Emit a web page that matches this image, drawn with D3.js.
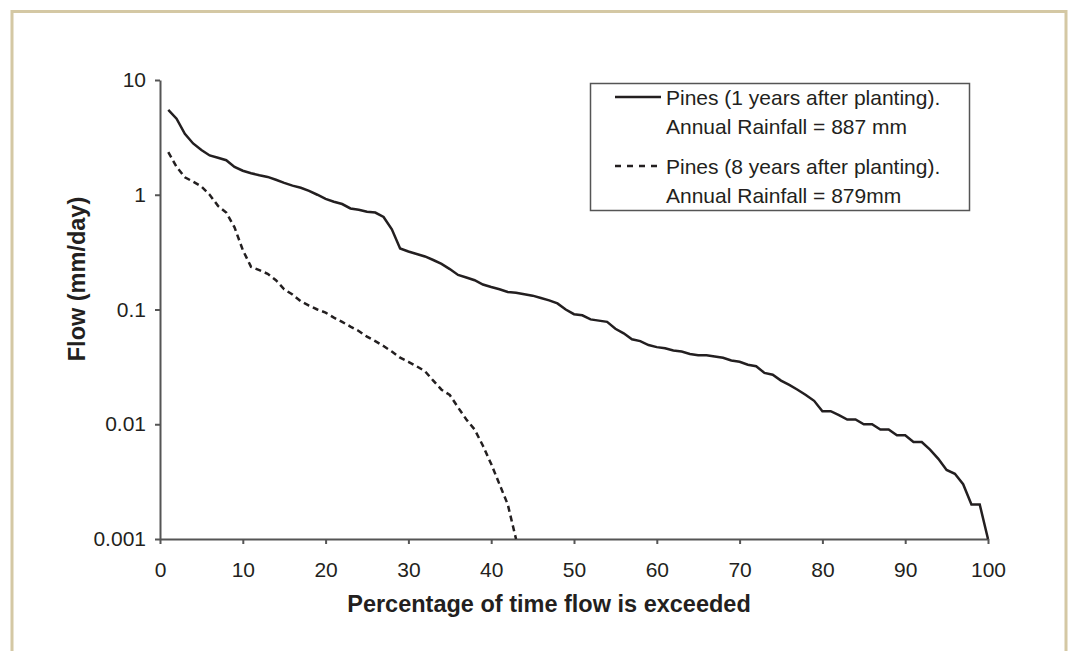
<!doctype html>
<html>
<head>
<meta charset="utf-8">
<title>Flow duration curves</title>
<script src="https://cdn.jsdelivr.net/npm/d3@7"></script>
<style>
    body { margin: 0; background: white; }
    text { font-family: "Liberation Sans", Arial, sans-serif; fill: #231f20; }
    .axis path, .axis line { stroke: #555; stroke-width: 2px; }
    .axis text { font-size: 21px; }
    .title { font-weight: bold; font-size: 23.5px; }
    .legend text { font-size: 21px; }
    .flow { fill: none; stroke: #231f20; stroke-width: 2.5px; }
</style>
</head>
<body>
<script>
    // percentage of time exceeded
    const pct1 = d3.range(1, 101);
    // pines 1 year after planting (mm/day)
    const flow1 = [5.5, 4.6, 3.4, 2.8, 2.45, 2.2, 2.1, 2.0, 1.75, 1.62,
        1.54, 1.48, 1.43, 1.35, 1.27, 1.2, 1.15, 1.08, 1.0, 0.92,
        0.87, 0.83, 0.76, 0.74, 0.71, 0.70, 0.64, 0.50, 0.34, 0.32,
        0.305, 0.29, 0.27, 0.25, 0.225, 0.20, 0.19, 0.18, 0.165, 0.157,
        0.15, 0.142, 0.14, 0.136, 0.132, 0.126, 0.12, 0.113, 0.10, 0.091,
        0.089, 0.082, 0.08, 0.078, 0.068, 0.062, 0.055, 0.053, 0.049, 0.047,
        0.046, 0.044, 0.043, 0.041, 0.040, 0.040, 0.039, 0.038, 0.036, 0.035,
        0.033, 0.032, 0.028, 0.027, 0.024, 0.022, 0.020, 0.018, 0.016, 0.013,
        0.013, 0.012, 0.011, 0.011, 0.010, 0.010, 0.009, 0.009, 0.008, 0.008,
        0.007, 0.007, 0.006, 0.005, 0.004, 0.0037, 0.003, 0.002, 0.002, 0.001];

    const pct8 = d3.range(1, 44);
    // pines 8 years after planting (mm/day)
    const flow8 = [2.35, 1.75, 1.42, 1.3, 1.18, 1.0, 0.8, 0.7, 0.52, 0.33,
        0.235, 0.22, 0.205, 0.18, 0.15, 0.135, 0.118, 0.108, 0.10, 0.094,
        0.085, 0.078, 0.071, 0.065, 0.058, 0.053, 0.048, 0.043, 0.038, 0.035,
        0.032, 0.029, 0.024, 0.020, 0.018, 0.014, 0.011, 0.009, 0.0065, 0.0045,
        0.003, 0.002, 0.001];

    const xTicks = d3.range(0, 101, 10);
    const yTicks = [0.001, 0.01, 0.1, 1, 10];
    const yTickLabels = ["0.001", "0.01", "0.1", "1", "10"];

    const legendLabels = [
        ["Pines (1 years after planting).", "Annual Rainfall = 887 mm"],
        ["Pines (8 years after planting).", "Annual Rainfall = 879mm"]
    ];

    const width = 1071, height = 651;
    const svg = d3.select("body").append("svg")
        .attr("width", width)
        .attr("height", height);

    // tan frame, bottom edge runs off the picture
    svg.append("path")
        .attr("d", `M12 ${height + 5} V11.5 H1066 V${height + 5}`)
        .attr("fill", "none")
        .attr("stroke", "#d4c8a4")
        .attr("stroke-width", 3);

    const plotLeft = 160, plotRight = 988, plotTop = 80, plotBottom = 539;
    const x = d3.scaleLinear().domain([0, 100]).range([plotLeft, plotRight]);
    const y = d3.scaleLog().domain([0.001, 10]).range([plotBottom, plotTop]);

    const xAxis = svg.append("g")
        .attr("class", "axis")
        .attr("transform", `translate(0, ${plotBottom})`)
        .call(d3.axisBottom(x).tickValues(xTicks).tickSize(5).tickSizeOuter(0));
    xAxis.selectAll("text").attr("dy", null).attr("y", 38);

    svg.append("g")
        .attr("class", "axis")
        .attr("transform", `translate(${plotLeft}, 0)`)
        .call(d3.axisLeft(y).tickValues(yTicks).tickSize(5).tickSizeOuter(0).tickPadding(9)
            .tickFormat((d, i) => yTickLabels[i]));
    svg.selectAll(".axis .domain").attr("stroke", "#555");
    svg.selectAll(".axis text").attr("fill", "#231f20");

    svg.append("text")
        .attr("class", "title")
        .attr("x", 549)
        .attr("y", 612)
        .attr("text-anchor", "middle")
        .text("Percentage of time flow is exceeded");

    svg.append("text")
        .attr("class", "title")
        .attr("transform", "translate(85, 279) rotate(-90)")
        .attr("text-anchor", "middle")
        .text("Flow (mm/day)");

    const line = d3.line()
        .x(d => x(d[0]))
        .y(d => y(d[1]));

    svg.append("path")
        .attr("class", "flow")
        .attr("d", line(d3.zip(pct1, flow1)));

    svg.append("path")
        .attr("class", "flow")
        .attr("stroke-dasharray", "6,4")
        .attr("d", line(d3.zip(pct8, flow8)));

    // legend
    const legend = svg.append("g").attr("class", "legend");
    legend.append("rect")
        .attr("x", 590.5).attr("y", 83.5)
        .attr("width", 379).attr("height", 127)
        .attr("fill", "white")
        .attr("stroke", "#555")
        .attr("stroke-width", 1.5);

    const entryY = [97, 166];
    legendLabels.forEach((lines, i) => {
        legend.append("line")
            .attr("class", "flow")
            .attr("x1", 615).attr("x2", 661)
            .attr("y1", entryY[i]).attr("y2", entryY[i])
            .attr("stroke-dasharray", i === 1 ? "6,6" : null);
        lines.forEach((t, j) => {
            legend.append("text")
                .attr("x", 666)
                .attr("y", entryY[i] + 8 + j * 29)
                .text(t);
        });
    });
</script>
</body>
</html>
